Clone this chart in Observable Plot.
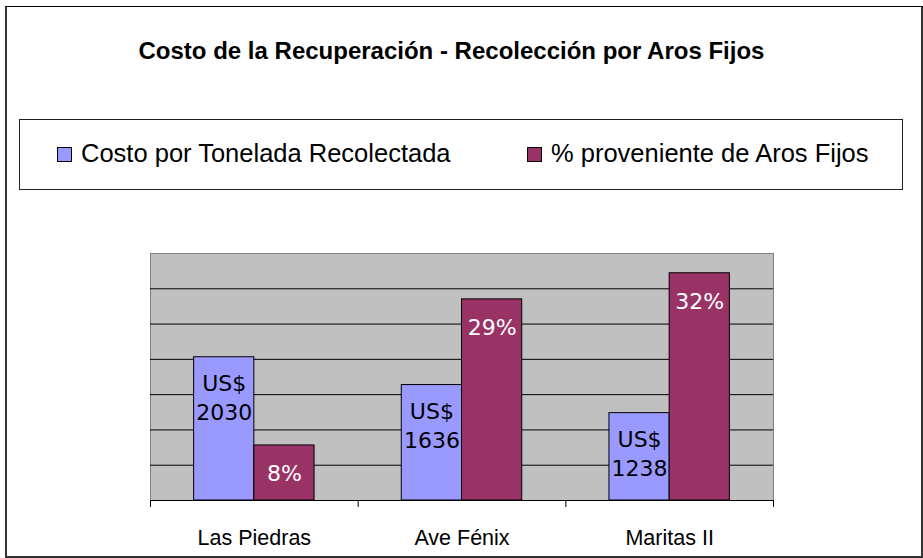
<!DOCTYPE html>
<html>
<head>
<meta charset="utf-8">
<script src="https://cdn.jsdelivr.net/npm/d3@7"></script>
<script src="https://cdn.jsdelivr.net/npm/@observablehq/plot@0.6"></script>
<style>
  html, body { margin: 0; padding: 0; background: #fff; }
  #wrap { position: relative; width: 923px; height: 558px; overflow: hidden; font-family: "Liberation Sans", Arial, sans-serif; }
  #border { position: absolute; left: 5px; top: 6px; width: 918px; height: 552px; box-sizing: border-box;
            border-top: 1px solid #000; border-left: 2px solid #333; border-right: 2px solid #333; border-bottom: 2px solid #333; }
  #title { position: absolute; left: 0; top: 38.7px; width: 903px; text-align: center; font-weight: bold;
           font-size: 24px; line-height: 24px; white-space: nowrap; color: #000; }
  #legend { position: absolute; left: 19px; top: 119px; width: 884px; height: 71px; box-sizing: border-box; border: 1px solid #222; }
  .sw { position: absolute; width: 15px; height: 15px; box-sizing: border-box; border: 1px solid #000; top: 27px; }
  .lt { position: absolute; top: 21.4px; font-size: 25.5px; line-height: 25.5px; white-space: nowrap; color: #000; }
  #chart { position: absolute; left: 0; top: 230px; }
</style>
</head>
<body>
<div id="wrap">
  <div id="border"></div>
  <div id="title"></div>
  <div id="legend"></div>
  <div id="chart"></div>
</div>
<script>
const titulo = "Costo de la Recuperación - Recolección por Aros Fijos";
const categories = ["Las Piedras", "Ave Fénix", "Maritas II"];
const costo = [2030, 1636, 1238];          // US$ por tonelada
const porcentaje = [7.8, 28.5, 32.2];      // % proveniente de Aros Fijos
const seriesNames = ["Costo por Tonelada Recolectada", "% proveniente de Aros Fijos"];
const seriesColors = ["#9999FF", "#993366"];
const gridTicks = [5, 10, 15, 20, 25, 30];

document.getElementById("title").textContent = titulo;

const legend = document.getElementById("legend");
const swLeft = [37, 507];
seriesNames.forEach((name, k) => {
  const sw = document.createElement("div");
  sw.className = "sw";
  sw.style.left = swLeft[k] + "px";
  sw.style.background = seriesColors[k];
  legend.appendChild(sw);
  const t = document.createElement("div");
  t.className = "lt";
  t.style.left = (swLeft[k] + 24) + "px";
  t.textContent = name;
  legend.appendChild(t);
});

const rows = categories.map((c, i) => ({c, i, costo: costo[i], pct: porcentaje[i]}));

const chart = Plot.plot({
  width: 923,
  height: 328,
  marginLeft: 150,
  marginRight: 150,
  marginTop: 23,
  marginBottom: 58,
  x: {domain: [0, categories.length]},
  y: {domain: [0, 35], axis: null},
  style: {fontFamily: "'Liberation Sans', Arial, sans-serif", fontSize: "21.5px", background: "transparent", color: "#000", overflow: "visible"},
  marks: [
    Plot.frame({fill: "#C0C0C0", stroke: "#808080"}),
    Plot.ruleY(gridTicks, {stroke: "#000", strokeWidth: 1}),
    Plot.rect(rows, {x1: d => d.i + 0.21, x2: d => d.i + 0.5, y1: 0, y2: d => d.costo / 100, fill: seriesColors[0], stroke: "#000", strokeWidth: 1}),
    Plot.rect(rows, {x1: d => d.i + 0.5, x2: d => d.i + 0.79, y1: 0, y2: d => d.pct, fill: seriesColors[1], stroke: "#000", strokeWidth: 1}),
    Plot.ruleY([0], {stroke: "#000"}),
    Plot.text(rows, {x: d => d.i + 0.355, y: d => d.costo / 100, text: d => `US$\n${d.costo}`, lineAnchor: "top", dy: 13, lineHeight: 1.32, fontFamily: "DejaVu Sans", fontSize: 22, fill: "#000"}),
    Plot.text(rows, {x: d => d.i + 0.645, y: d => d.pct, text: d => `${Math.round(d.pct)}%`, lineAnchor: "top", dy: 20, fontFamily: "DejaVu Sans", fontSize: 22, fill: "#fff"}),
    Plot.axisX({ticks: d3.range(0, categories.length + 1), tickSize: 7, tickFormat: () => "", stroke: "#000"}),
    Plot.axisX({ticks: categories.map((c, i) => i + 0.5), tickSize: 0, tickPadding: 29, tickFormat: d => categories[Math.floor(d)], fill: "#000"})
  ]
});
document.getElementById("chart").appendChild(chart);
</script>
</body>
</html>
